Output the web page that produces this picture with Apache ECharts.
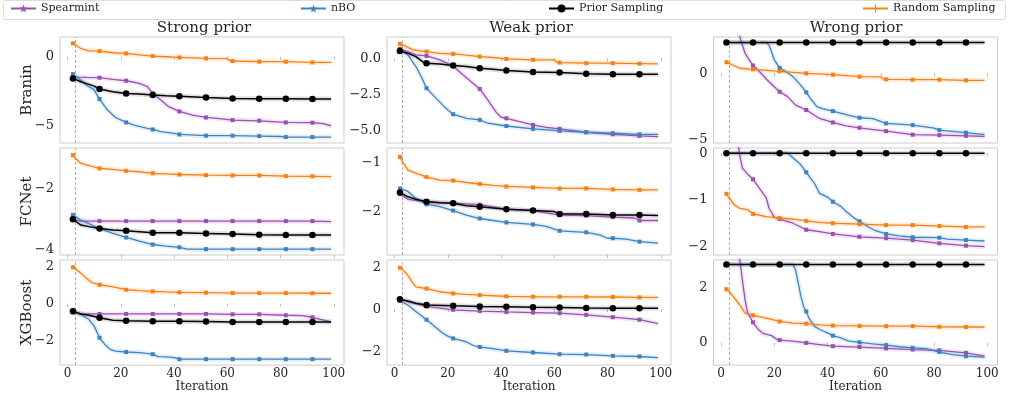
<!DOCTYPE html>
<html><head><meta charset="utf-8">
<script src="https://cdn.jsdelivr.net/npm/echarts@6/dist/echarts.min.js"></script>
<style>html,body{margin:0;padding:0;background:#fff}#c{width:1009px;height:394px}</style>
</head><body><div id="c"></div>
<script>
// ---------- data ----------
const methods = ['Spearmint', 'nBO', 'Prior Sampling', 'Random Sampling'];
const rowNames = ['Branin', 'FCNet', 'XGBoost'];
const colTitles = ['Strong prior', 'Weak prior', 'Wrong prior'];
const markerIters = [2, 12, 22, 32, 42, 52, 62, 72, 82, 92];
const xTicks = [0, 20, 40, 60, 80, 100];
const priorIter = 3;

// y tick values per panel (row-major)
const yTicks = [
  [0, -5], [0, -2.5, -5], [0, -5],
  [-2, -4], [-1, -2], [0, -1, -2],
  [2, 0, -2], [2, 0, -2], [2, 0]
];
const yMin = [-6.25, -5.83, -5.22, -4.16, -2.88, -2.18, -3.33, -2.66, -0.8];
const yMax = [1.43, 1.46, 2.72, -0.69, -0.71, 0.11, 2.36, 2.34, 2.98];

// Branin / Strong prior
const braninStrongSpearmint = [[2,-1.45],[3,-1.47],[7,-1.5],[12,-1.52],[17,-1.64],[22,-1.74],[27,-1.93],[30,-2.17],[32,-2.66],[35,-3.14],[38,-3.62],[42,-3.96],[47,-4.23],[52,-4.4],[57,-4.49],[62,-4.59],[72,-4.64],[82,-4.76],[92,-4.78],[96,-4.85],[99,-5.0]];
const braninStrongNBO = [[2,-1.26],[3,-1.4],[5,-1.7],[7,-2.05],[10,-2.4],[12,-3.07],[15,-3.86],[18,-4.4],[22,-4.76],[25,-4.95],[30,-5.19],[32,-5.27],[35,-5.43],[40,-5.56],[42,-5.63],[50,-5.7],[52,-5.72],[62,-5.72],[72,-5.75],[80,-5.78],[82,-5.82],[92,-5.82],[99,-5.82]];
const braninStrongPrior = [[2,-1.57],[5,-1.81],[8,-2.0],[10,-2.13],[12,-2.34],[17,-2.54],[22,-2.66],[27,-2.7],[32,-2.78],[37,-2.83],[42,-2.87],[52,-2.95],[62,-3.02],[72,-3.04],[82,-3.04],[92,-3.07],[99,-3.07]];
const braninStrongRandom = [[2,0.97],[3,0.85],[5,0.6],[7,0.48],[8,0.43],[12,0.41],[17,0.29],[22,0.24],[27,0.14],[32,0.05],[37,0],[42,-0.05],[52,-0.12],[60,-0.14],[61,-0.29],[62,-0.31],[72,-0.36],[82,-0.36],[92,-0.41],[99,-0.41]];

// Branin / Weak prior
const braninWeakSpearmint = [[2,0.64],[5,0.46],[8,0.23],[12,0.16],[17,-0.11],[22,-0.53],[25,-1.03],[28,-1.49],[32,-2.11],[35,-2.87],[38,-3.67],[40,-4.06],[42,-4.13],[47,-4.36],[52,-4.59],[57,-4.75],[62,-4.86],[72,-5.09],[82,-5.23],[92,-5.34],[99,-5.39]];
const braninWeakNBO = [[2,0.57],[5,0.23],[8,-0.57],[10,-1.26],[12,-2.06],[15,-2.64],[18,-3.21],[20,-3.56],[22,-3.85],[27,-4.13],[32,-4.24],[35,-4.47],[42,-4.66],[52,-4.86],[62,-5.0],[72,-5.09],[82,-5.16],[92,-5.23],[99,-5.23]];
const braninWeakPrior = [[2,0.5],[5,0.34],[8,0.11],[11,-0.3],[12,-0.34],[17,-0.39],[22,-0.5],[27,-0.57],[32,-0.69],[37,-0.76],[42,-0.85],[52,-0.94],[62,-0.99],[72,-1.06],[82,-1.1],[92,-1.1],[99,-1.1]];
const braninWeakRandom = [[2,0.99],[3,0.92],[7,0.57],[12,0.46],[17,0.34],[22,0.3],[27,0.21],[32,0.11],[37,0.05],[42,-0.05],[52,-0.11],[60,-0.11],[61,-0.28],[62,-0.3],[72,-0.34],[82,-0.34],[92,-0.37],[99,-0.39]];

// Branin / Wrong prior
const braninWrongSpearmint = [[2,6],[5,4],[7,2.75],[9,1.5],[12,0.58],[15,0],[18,-0.63],[22,-1.38],[25,-1.75],[28,-2.38],[32,-2.75],[37,-3.38],[42,-3.68],[47,-3.93],[52,-4.08],[62,-4.33],[72,-4.6],[82,-4.63],[92,-4.68],[99,-4.72]];
const braninWrongNBO = [[2,2.3],[12,2.3],[17,2.3],[18,2.1],[19,1.6],[20,1.0],[22,0.4],[25,0.05],[27,-0.25],[30,-0.9],[32,-1.43],[34,-2.0],[36,-2.5],[38,-2.65],[42,-2.83],[47,-3.1],[52,-3.33],[57,-3.4],[62,-3.75],[72,-3.88],[80,-4.1],[82,-4.25],[92,-4.45],[99,-4.6]];
const braninWrongPrior = [[2,2.3],[12,2.3],[22,2.3],[32,2.3],[42,2.3],[52,2.3],[62,2.3],[72,2.3],[82,2.3],[92,2.3],[99,2.3]];
const braninWrongRandom = [[2,0.83],[3,0.75],[7,0.38],[12,0.3],[22,0.15],[32,0],[42,-0.1],[52,-0.25],[60,-0.27],[61,-0.43],[62,-0.45],[72,-0.48],[82,-0.48],[92,-0.53],[99,-0.53]];

// FCNet / Strong prior
const fcnetStrongSpearmint = [[2,-2.92],[3,-3.03],[5,-3.06],[12,-3.06],[22,-3.06],[32,-3.06],[42,-3.06],[52,-3.06],[62,-3.06],[72,-3.06],[82,-3.06],[92,-3.06],[99,-3.08]];
const fcnetStrongNBO = [[2,-2.86],[5,-3.03],[8,-3.14],[12,-3.3],[17,-3.46],[22,-3.59],[27,-3.71],[32,-3.82],[37,-3.87],[42,-3.91],[45,-3.97],[52,-3.97],[62,-3.97],[72,-3.97],[82,-3.97],[92,-3.97],[99,-3.97]];
const fcnetStrongPrior = [[2,-3.0],[5,-3.19],[8,-3.24],[12,-3.3],[17,-3.35],[22,-3.37],[32,-3.44],[42,-3.44],[52,-3.46],[62,-3.48],[72,-3.5],[82,-3.51],[92,-3.51],[99,-3.51]];
const fcnetStrongRandom = [[2,-0.92],[3,-1.03],[5,-1.19],[7,-1.24],[12,-1.35],[17,-1.38],[22,-1.43],[27,-1.46],[32,-1.51],[37,-1.53],[42,-1.55],[52,-1.57],[62,-1.58],[72,-1.58],[82,-1.6],[92,-1.61],[99,-1.62]];

// FCNet / Weak prior
const fcnetWeakSpearmint = [[2,-1.64],[5,-1.75],[12,-1.8],[22,-1.83],[32,-1.86],[42,-1.95],[52,-1.98],[62,-2.07],[72,-2.08],[82,-2.11],[90,-2.13],[92,-2.18],[99,-2.18]];
const fcnetWeakNBO = [[2,-1.53],[5,-1.59],[8,-1.73],[12,-1.85],[17,-1.9],[22,-1.98],[27,-2.07],[32,-2.14],[37,-2.18],[42,-2.22],[52,-2.26],[57,-2.3],[62,-2.39],[72,-2.42],[77,-2.47],[80,-2.54],[82,-2.54],[87,-2.56],[90,-2.59],[92,-2.61],[99,-2.64]];
const fcnetWeakPrior = [[2,-1.61],[5,-1.7],[8,-1.75],[12,-1.8],[17,-1.82],[22,-1.83],[27,-1.88],[32,-1.9],[42,-1.95],[52,-1.98],[60,-2.0],[62,-2.05],[72,-2.05],[82,-2.07],[92,-2.07],[99,-2.08]];
const fcnetWeakRandom = [[2,-0.89],[3,-0.99],[5,-1.16],[8,-1.22],[12,-1.3],[17,-1.36],[22,-1.37],[27,-1.41],[32,-1.44],[37,-1.47],[42,-1.49],[52,-1.51],[62,-1.53],[72,-1.53],[82,-1.55],[92,-1.56],[99,-1.56]];

// FCNet / Wrong prior
const fcnetWrongSpearmint = [[2,1.0],[6,0.35],[7,-0.05],[8,-0.32],[10,-0.45],[12,-0.56],[15,-0.8],[17,-0.96],[18,-1.18],[20,-1.37],[22,-1.41],[27,-1.5],[32,-1.64],[37,-1.68],[42,-1.73],[52,-1.79],[62,-1.82],[72,-1.86],[82,-1.93],[92,-1.98],[99,-2.0]];
const fcnetWrongNBO = [[2,0],[12,0],[22,0],[25,0],[27,-0.1],[30,-0.25],[32,-0.41],[35,-0.64],[37,-0.86],[40,-0.94],[42,-1.04],[45,-1.14],[47,-1.25],[50,-1.39],[52,-1.46],[55,-1.57],[58,-1.66],[62,-1.73],[67,-1.77],[72,-1.8],[82,-1.81],[85,-1.84],[92,-1.86],[99,-1.88]];
const fcnetWrongPrior = [[2,0],[12,0],[22,0],[32,0],[42,0],[52,0],[62,0],[72,0],[82,0],[92,0],[99,0]];
const fcnetWrongRandom = [[2,-0.87],[3,-0.96],[5,-1.11],[7,-1.18],[10,-1.21],[12,-1.3],[17,-1.36],[22,-1.39],[27,-1.41],[32,-1.45],[37,-1.48],[42,-1.5],[52,-1.52],[62,-1.54],[72,-1.54],[82,-1.56],[92,-1.58],[99,-1.58]];

// XGBoost / Strong prior
const xgbStrongSpearmint = [[2,-0.45],[5,-0.56],[12,-0.56],[22,-0.56],[32,-0.56],[42,-0.56],[52,-0.56],[62,-0.58],[72,-0.58],[82,-0.63],[88,-0.65],[92,-0.74],[95,-0.86],[99,-0.99]];
const xgbStrongNBO = [[2,-0.47],[5,-0.59],[8,-0.86],[10,-1.22],[12,-1.85],[14,-2.21],[16,-2.48],[18,-2.57],[22,-2.62],[27,-2.65],[32,-2.74],[34,-2.87],[37,-2.88],[40,-2.92],[42,-3.01],[52,-3.01],[62,-3.01],[72,-3.01],[82,-3.01],[92,-3.01],[99,-3.01]];
const xgbStrongPrior = [[2,-0.41],[5,-0.56],[8,-0.63],[12,-0.77],[17,-0.9],[22,-0.93],[32,-0.95],[42,-0.95],[52,-0.97],[62,-0.99],[72,-0.99],[82,-0.99],[92,-0.99],[99,-0.99]];
const xgbStrongRandom = [[2,1.97],[3,1.87],[5,1.65],[7,1.38],[9,1.15],[12,1.02],[17,0.9],[22,0.75],[27,0.7],[32,0.66],[37,0.63],[42,0.61],[52,0.59],[62,0.57],[72,0.57],[82,0.57],[92,0.56],[99,0.56]];

// XGBoost / Weak prior
const xgbWeakSpearmint = [[2,0.44],[5,0.36],[8,0.25],[12,0.13],[17,0.05],[22,-0.03],[32,-0.09],[42,-0.13],[52,-0.16],[62,-0.19],[72,-0.27],[82,-0.38],[92,-0.5],[99,-0.69]];
const xgbWeakNBO = [[2,0.39],[5,0.2],[8,-0.11],[12,-0.5],[15,-0.81],[18,-1.13],[20,-1.28],[22,-1.39],[27,-1.56],[30,-1.75],[32,-1.8],[37,-1.88],[42,-1.98],[52,-2.06],[62,-2.14],[72,-2.16],[82,-2.22],[92,-2.25],[99,-2.3]];
const xgbWeakPrior = [[2,0.47],[5,0.39],[8,0.28],[12,0.2],[22,0.16],[32,0.13],[42,0.11],[52,0.09],[62,0.08],[72,0.06],[82,0.05],[92,0.05],[99,0.05]];
const xgbWeakRandom = [[2,1.97],[3,1.88],[5,1.61],[7,1.22],[8,1.06],[12,0.98],[17,0.83],[22,0.75],[27,0.7],[32,0.67],[37,0.64],[42,0.61],[52,0.59],[62,0.59],[72,0.59],[82,0.58],[92,0.56],[99,0.56]];

// XGBoost / Wrong prior
const xgbWrongSpearmint = [[2,4.5],[7,3.0],[8,2.26],[9,1.55],[10,1.07],[12,0.74],[14,0.48],[16,0.33],[19,0.26],[21,0.12],[22,0.1],[27,0.06],[32,0],[37,-0.06],[42,-0.12],[52,-0.15],[62,-0.2],[72,-0.24],[82,-0.27],[92,-0.36],[99,-0.48]];
const xgbWrongNBO = [[2,2.82],[12,2.82],[22,2.82],[27,2.82],[28,2.62],[29,2.14],[30,1.67],[31,1.31],[32,1.13],[33,0.89],[35,0.6],[37,0.48],[40,0.36],[42,0.26],[45,0.18],[48,0.06],[52,0.02],[57,-0.04],[62,-0.08],[67,-0.14],[72,-0.18],[77,-0.21],[82,-0.33],[87,-0.42],[92,-0.48],[99,-0.51]];
const xgbWrongPrior = [[2,2.82],[12,2.82],[22,2.82],[32,2.82],[42,2.82],[52,2.82],[62,2.82],[72,2.82],[82,2.82],[92,2.82],[99,2.82]];
const xgbWrongRandom = [[2,1.93],[3,1.85],[5,1.61],[7,1.37],[9,1.07],[12,0.99],[17,0.89],[22,0.77],[27,0.71],[32,0.69],[37,0.65],[42,0.62],[52,0.61],[62,0.6],[72,0.6],[82,0.58],[92,0.57],[99,0.57]];

const panels = [
  [braninStrongSpearmint, braninStrongNBO, braninStrongPrior, braninStrongRandom],
  [braninWeakSpearmint, braninWeakNBO, braninWeakPrior, braninWeakRandom],
  [braninWrongSpearmint, braninWrongNBO, braninWrongPrior, braninWrongRandom],
  [fcnetStrongSpearmint, fcnetStrongNBO, fcnetStrongPrior, fcnetStrongRandom],
  [fcnetWeakSpearmint, fcnetWeakNBO, fcnetWeakPrior, fcnetWeakRandom],
  [fcnetWrongSpearmint, fcnetWrongNBO, fcnetWrongPrior, fcnetWrongRandom],
  [xgbStrongSpearmint, xgbStrongNBO, xgbStrongPrior, xgbStrongRandom],
  [xgbWeakSpearmint, xgbWeakNBO, xgbWeakPrior, xgbWeakRandom],
  [xgbWrongSpearmint, xgbWrongNBO, xgbWrongPrior, xgbWrongRandom]
];

// ---------- style ----------
const FONT = '"DejaVu Serif", "Liberation Serif", serif';
const colors = ['#9a4fb4', '#3b84c4', '#000000', '#ff7f0e'];
const STAR = 'path://M0,-10L2.35,-3.24L9.51,-3.09L3.8,1.24L5.88,8.09L0,4L-5.88,8.09L-3.8,1.24L-9.51,-3.09L-2.35,-3.24Z';
const PLUS = 'path://M-1.3,-10H1.3V-1.3H10V1.3H1.3V10H-1.3V1.3H-10V-1.3H-1.3Z';
const legendSymbols = [STAR, STAR, 'circle', PLUS];
const plotSymbols = ['rect', 'rect', 'circle', 'rect'];
const plotSymbolSize = [4, 4, 6.5, 4];
const lineWidths = [1.3, 1.3, 1.5, 1.3];

const colLeft = [60, 387, 713.5];
const rowTop = [37, 148, 260];
const gridW = 284, gridH = 106;
const X_MIN = -2.85, X_MAX = 103.85;

function fmt(v, p) {
  const s = (p === 1 ? Math.abs(v).toFixed(1) : String(Math.abs(v)));
  return (v < 0 ? '\u2212' : '') + s;
}

const grids = [], xAxes = [], yAxes = [], series = [];
for (let r = 0; r < 3; r++) {
  for (let c = 0; c < 3; c++) {
    const p = r * 3 + c;
    grids.push({ left: colLeft[c], top: rowTop[r], width: gridW, height: (r === 1 ? 107 : gridH),
      show: true, borderColor: '#cccccc', borderWidth: 1, backgroundColor: '#fff' });
    xAxes.push({
      type: 'value', gridIndex: p, min: X_MIN, max: X_MAX,
      axisLine: { show: false }, splitLine: { show: false },
      axisTick: { show: true, customValues: xTicks, length: 3, lineStyle: { color: '#bbbbbb' } },
      axisLabel: { show: r === 2, customValues: xTicks, fontFamily: FONT, fontSize: 12, color: '#262626', margin: 3 },
      name: r === 2 ? 'Iteration' : '', nameLocation: 'middle', nameGap: 14,
      nameTextStyle: { fontFamily: FONT, fontSize: 12, color: '#262626' }
    });
    const prec = yTicks[p].some(v => !Number.isInteger(v)) ? 1 : 0;
    yAxes.push({
      type: 'value', gridIndex: p, min: yMin[p], max: yMax[p],
      axisLine: { show: false }, splitLine: { show: false }, axisTick: { show: false },
      axisLabel: { customValues: yTicks[p], fontFamily: FONT, fontSize: 13, color: '#262626', margin: 6,
        formatter: v => fmt(v, prec) },
      name: c === 0 ? rowNames[r] : '', nameLocation: 'middle', nameGap: 25, nameMoveOverlap: false,
      nameTextStyle: { fontFamily: FONT, fontSize: 15, color: '#262626' }
    });
    // bands (shaded uncertainty)
    panels[p].forEach((d, m) => {
      series.push({
        type: 'line', xAxisIndex: p, yAxisIndex: p, data: d, symbol: 'none', silent: true,
        lineStyle: { width: 5, color: colors[m], opacity: m === 2 ? 0.12 : 0.13 }, z: 1,
        animation: false,
        markLine: m === 0 ? { silent: true, symbol: 'none', label: { show: false },
          lineStyle: { type: [3, 2], color: '#999999', width: 0.8 }, data: [{ xAxis: priorIter }] } : undefined
      });
    });
    // main lines
    panels[p].forEach((d, m) => {
      series.push({
        name: methods[m], type: 'line', xAxisIndex: p, yAxisIndex: p,
        symbol: legendSymbols[m], showSymbol: true, animation: false, z: 3 + m,
        data: d.map(pt => markerIters.includes(pt[0])
          ? { value: pt, symbol: plotSymbols[m], symbolSize: plotSymbolSize[m] }
          : { value: pt, symbol: 'none' }),
        itemStyle: { color: colors[m] },
        lineStyle: { width: lineWidths[m], color: colors[m] }
      });
    });
  }
}

const legendLeft = [10, 300, 548, 862];
const legends = methods.map((name, i) => ({
  data: [name], left: legendLeft[i], top: 3, padding: 0, itemWidth: 25, itemHeight: 10,
  itemGap: 0, selectedMode: false,
  textStyle: { fontFamily: FONT, fontSize: 11, color: '#262626' }
}));

const titleCenters = [204, 531, 856];
const titles = colTitles.map((t, i) => ({
  text: t, left: titleCenters[i], top: 21, textAlign: 'center', padding: 0,
  textStyle: { fontFamily: FONT, fontSize: 15, fontWeight: 'normal', color: '#262626' }
}));

const chart = echarts.init(document.getElementById('c'), null, { renderer: 'canvas' });
chart.setOption({
  animation: false,
  backgroundColor: '#fff',
  title: titles,
  legend: legends,
  graphic: [{ type: 'rect', left: 3, top: 0, z: -1,
    shape: { width: 1002, height: 19, r: 2 }, style: { fill: '#fff', stroke: '#dddddd', lineWidth: 1 } }],
  grid: grids, xAxis: xAxes, yAxis: yAxes, series: series
});
</script></body></html>
